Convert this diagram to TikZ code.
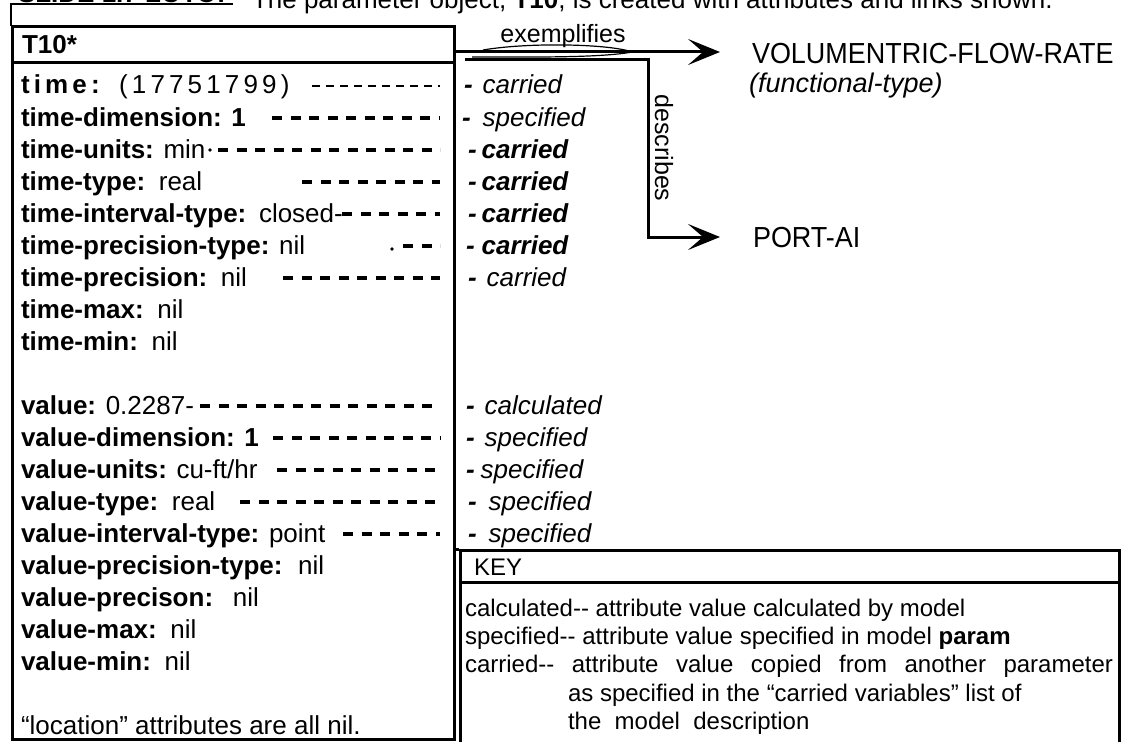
\documentclass[tikz,border=0pt]{standalone}
\usepackage{fontspec}
\setmainfont{Liberation Sans}
\usetikzlibrary{arrows.meta}
\begin{document}
\begin{tikzpicture}[x=1pt,y=-1pt,
  txt/.style={inner sep=0pt,outer sep=0pt,anchor=base west},
  row/.style={txt,font=\fontsize{26}{30}\selectfont},
  tag/.style={txt,font=\fontsize{26}{30}\selectfont\itshape},
  tagb/.style={txt,font=\fontsize{26}{30}\selectfont\bfseries\itshape},
  keytxt/.style={txt,font=\fontsize{24}{28}\selectfont},
  big/.style={txt,font=\fontsize{29}{33}\selectfont},
  frame/.style={line width=3pt},
  thinframe/.style={line width=2pt},
  leader/.style={line width=3.5pt,dash pattern=on 10pt off 8.5pt},
  leaderthin/.style={line width=1.6pt,dash pattern=on 8pt off 6pt},
  link/.style={line width=3pt,-{Stealth[length=32pt,width=26pt,inset=15pt]}},
]
\useasboundingbox (0,0) rectangle (1123,741);
\clip (0,0) rectangle (1123,741);

% heading (cut off at the top)
\node[txt,font=\fontsize{26}{30}\selectfont\bfseries] (hd1) at (18,2.5) {SLIDE 1.7 LOTO:};
\node[txt,font=\fontsize{26}{30}\selectfont] (hd2) at (252,9) {The parameter object, \textbf{T10}, is created with attributes and links shown.};
\draw[thinframe] (233,4) -- (11,4) -- (11,26);

% T10 box
\node[draw,frame,anchor=north west,inner sep=0pt,minimum width=442pt,minimum height=713pt] (t10) at (11,25) {};
\draw[frame] (11,63) -- (453,63);
\draw[frame] (453,738) -- (453,741);
\node[txt,font=\fontsize{26}{30}\selectfont\bfseries] (title) at (22,54) {T10*};

% attribute rows
\node[row] (r0) at (21,94) {\addfontfeatures{LetterSpace=16}\textbf{time:} (17751799)};
\node[row] (r1) at (21,126) {\textbf{time-dimension: 1}};
\node[row] (r2) at (21,158) {\textbf{time-units:} min};
\node[row] (r3) at (21,190) {\textbf{time-type:}\hspace{4pt} real};
\node[row] (r4) at (21,222) {\textbf{time-interval-type:}\hspace{3pt} closed-};
\node[row] (r5) at (21,254) {\textbf{time-precision-type:} nil};
\node[row] (r6) at (21,286) {\textbf{time-precision:}\hspace{4pt} nil};
\node[row] (r7) at (21,318) {\textbf{time-max:}\hspace{4pt} nil};
\node[row] (r8) at (21,350) {\textbf{time-min:}\hspace{4pt} nil};
\node[row] (r10) at (21,414) {\textbf{value:} 0.2287-};
\node[row] (r11) at (21,446) {\textbf{value-dimension: 1}};
\node[row] (r12) at (21,478) {\textbf{value-units:} cu-ft/hr};
\node[row] (r13) at (21,510) {\textbf{value-type:}\hspace{4pt} real};
\node[row] (r14) at (21,542) {\textbf{value-interval-type:} point};
\node[row] (r15) at (21,574) {\textbf{value-precision-type:}\hspace{6pt} nil};
\node[row] (r16) at (21,606) {\textbf{value-precison:}\hspace{10pt} nil};
\node[row] (r17) at (21,638) {\textbf{value-max:}\hspace{4pt} nil};
\node[row] (r18) at (21,670) {\textbf{value-min:}\hspace{4pt} nil};
\node[row] (r20) at (21,734) {“location” attributes are all nil.};

% leader dashes
\draw[leaderthin] (312,86) -- (440,86);
\draw[leader] (272,118) -- (440,118);
\fill (210,150) circle (1.8pt);
\draw[leader] (218,150) -- (440,150);
\draw[leader] (302,182) -- (440,182);
\draw[leader] (342,214) -- (440,214);
\fill (392,249) circle (1.8pt);
\draw[leader] (403,246) -- (440,246);
\draw[leader] (283,278) -- (440,278);
\draw[leader] (200,406) -- (440,406);
\draw[leader] (273,438) -- (440,438);
\draw[leader] (277,470) -- (440,470);
\draw[leader] (240,502) -- (440,502);
\draw[leader] (343,534) -- (440,534);

% source tags
\node[tag] (s0) at (464,94) {\textbf{-}\hspace{10pt}carried};
\node[tag] (s1) at (462,126) {\textbf{-}\hspace{12pt}specified};
\node[tagb] (s2) at (468,158) {-\hspace{5pt}carried};
\node[tagb] (s3) at (468,190) {-\hspace{5pt}carried};
\node[tagb] (s4) at (468,222) {-\hspace{5pt}carried};
\node[tagb] (s5) at (466,254) {-\hspace{7pt}carried};
\node[tag] (s6) at (468,286) {\textbf{-}\hspace{10pt}carried};
\node[tag] (s10) at (466,414) {\textbf{-}\hspace{10pt}calculated};
\node[tag] (s11) at (466,446) {\textbf{-}\hspace{10pt}specified};
\node[tag] (s12) at (466,478) {\textbf{-}\hspace{6pt}specified};
\node[tag] (s13) at (468,510) {\textbf{-}\hspace{12pt}specified};
\node[tag] (s14) at (468,542) {\textbf{-}\hspace{12pt}specified};

% links
\node[big] (vfr) at (752,64) {\scalebox{0.93}[1]{VOLUMENTRIC-FLOW-RATE}};
\node[txt,font=\fontsize{27}{31}\selectfont\itshape] (ft) at (749,93) {(functional-type)};
\node[big] (port) at (753,247) {\scalebox{0.93}[1]{PORT-AI}};
\coordinate (exS) at (453,52);
\coordinate (dS) at (465,60);
\coordinate (bend) at (648,237);
\draw[link,shorten >=32pt] (exS) -- (vfr.west |- exS);
\draw[link,shorten >=33pt] (dS) -| (bend) -- (port.west |- bend);
\draw[line width=1.2pt] (483,50) .. controls (530,42) and (610,44) .. (632,52) .. controls (600,58) and (530,57) .. (472,57);
\node[inner sep=0pt,font=\fontsize{25}{29}\selectfont] (exl) at (563,36) {exemplifies};
\node[inner sep=0pt,font=\fontsize{25}{29}\selectfont,rotate=-90] (desc) at (664,148) {describes};

% key
\draw[frame] (453,549) -- (459,549);
\node[draw,frame,anchor=north west,inner sep=0pt,minimum width=659pt,minimum height=210pt] (key) at (459,549) {};
\draw[frame] (459,582) -- (1118,582);
\node[keytxt] (keyl) at (474,575) {KEY};
\node[keytxt] (k1) at (465,616) {calculated-{}- attribute value calculated by model};
\node[keytxt] (k2) at (465,644) {specified-{}- attribute value specified in model \textbf{param}};
\node[keytxt] (k3) at (465,672) {\makebox[648pt][s]{carried-{}- attribute value copied from another parameter}};
\node[keytxt] (k4) at (568,701) {as specified in the “carried variables” list of};
\node[keytxt] (k5) at (568,729) {the\ \ model\ \ description};
\end{tikzpicture}
\end{document}
